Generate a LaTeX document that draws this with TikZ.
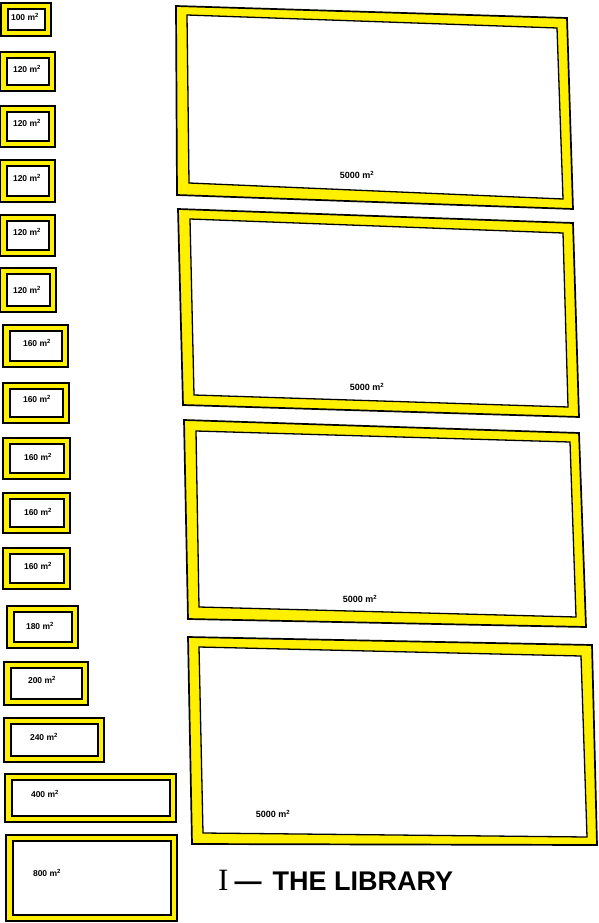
\documentclass[tikz,border=0pt]{standalone}
\usepackage{fontspec}
\setmainfont{Liberation Sans}
\newfontfamily\romanI{Liberation Serif}
\definecolor{plotyellow}{RGB}{255,240,0}
\tikzset{
  outerframe/.style={fill=plotyellow, draw=black, line width=1.7pt, line join=miter},
  innerframe/.style={fill=white, draw=black, line width=1.3pt, line join=miter},
  area/.style={font=\bfseries\fontsize{8.5}{10}\selectfont, inner sep=0pt},
  bigarea/.style={font=\bfseries\fontsize{9}{10}\selectfont, inner sep=0pt},
  titletext/.style={font=\bfseries\fontsize{27}{30}\selectfont, inner sep=0pt, anchor=base west},
}
\newcommand\roomsmall[8]{%
  \draw[outerframe] (#1,#2) rectangle (#3,#4);
  \draw[innerframe] (#1+7,#2+6) rectangle (#3-6,#4-6);
  \node[area] (#8) at (#5,#6) {#7 m\textsuperscript{2}};
}
\begin{document}
\begin{tikzpicture}[x=1pt,y=-1pt]
\useasboundingbox (0,0) rectangle (598,923);
% small rooms
\roomsmall{1}{3}{51}{36}{25}{17}{100}{r1}
\roomsmall{0}{52}{55}{91}{27}{69}{120}{r2}
\roomsmall{0}{106}{55}{147}{27}{123}{120}{r3}
\roomsmall{0}{160}{55}{202}{27}{178}{120}{r4}
\roomsmall{0}{215}{55}{256}{27}{232}{120}{r5}
\roomsmall{0}{268}{56}{312}{27}{290}{120}{r6}
\roomsmall{3}{325}{68}{367}{37}{343}{160}{r7}
\roomsmall{3}{383}{69}{423}{37}{399}{160}{r8}
\roomsmall{3}{438}{70}{479}{38}{457}{160}{r9}
\roomsmall{3}{493}{70}{533}{38}{512}{160}{r10}
\roomsmall{3}{548}{70}{589}{38}{566}{160}{r11}
\roomsmall{7}{606}{78}{648}{40}{626}{180}{r12}
\roomsmall{4}{662}{88}{705}{42}{680}{200}{r13}
\roomsmall{4}{718}{104}{762}{44}{737}{240}{r14}
\roomsmall{5}{774}{176}{822}{45}{794}{400}{r15}
\roomsmall{6}{835}{177}{921}{47}{873}{800}{r16}
% large rooms
\draw[outerframe] (176,6) -- (567,18) -- (573,209) -- (177,195) -- cycle;
\draw[innerframe] (187,15) -- (557,28) -- (563,199) -- (189,183) -- cycle;
\node[bigarea] (b1) at (357,175) {5000 m\textsuperscript{2}};
\draw[outerframe] (178,209) -- (573,223) -- (579,417) -- (183,405) -- cycle;
\draw[innerframe] (190,219) -- (563,233) -- (568,407) -- (194,395) -- cycle;
\node[bigarea] (b2) at (367,387) {5000 m\textsuperscript{2}};
\draw[outerframe] (184,420) -- (579,433) -- (586,627) -- (188,619) -- cycle;
\draw[innerframe] (196,431) -- (570,442) -- (576,617) -- (199,607) -- cycle;
\node[bigarea] (b3) at (360,599) {5000 m\textsuperscript{2}};
\draw[outerframe] (188,637) -- (592,645) -- (597,845) -- (192,844) -- cycle;
\draw[innerframe] (199,647) -- (581,656) -- (587,837) -- (203,833) -- cycle;
\node[bigarea] (b4) at (273,814) {5000 m\textsuperscript{2}};
% title
\node[titletext] (title) at (218,890) {{\romanI\mdseries\fontsize{31}{32}\selectfont I}\hspace{6pt}—\hspace{11pt}THE LIBRARY};
\end{tikzpicture}
\end{document}
